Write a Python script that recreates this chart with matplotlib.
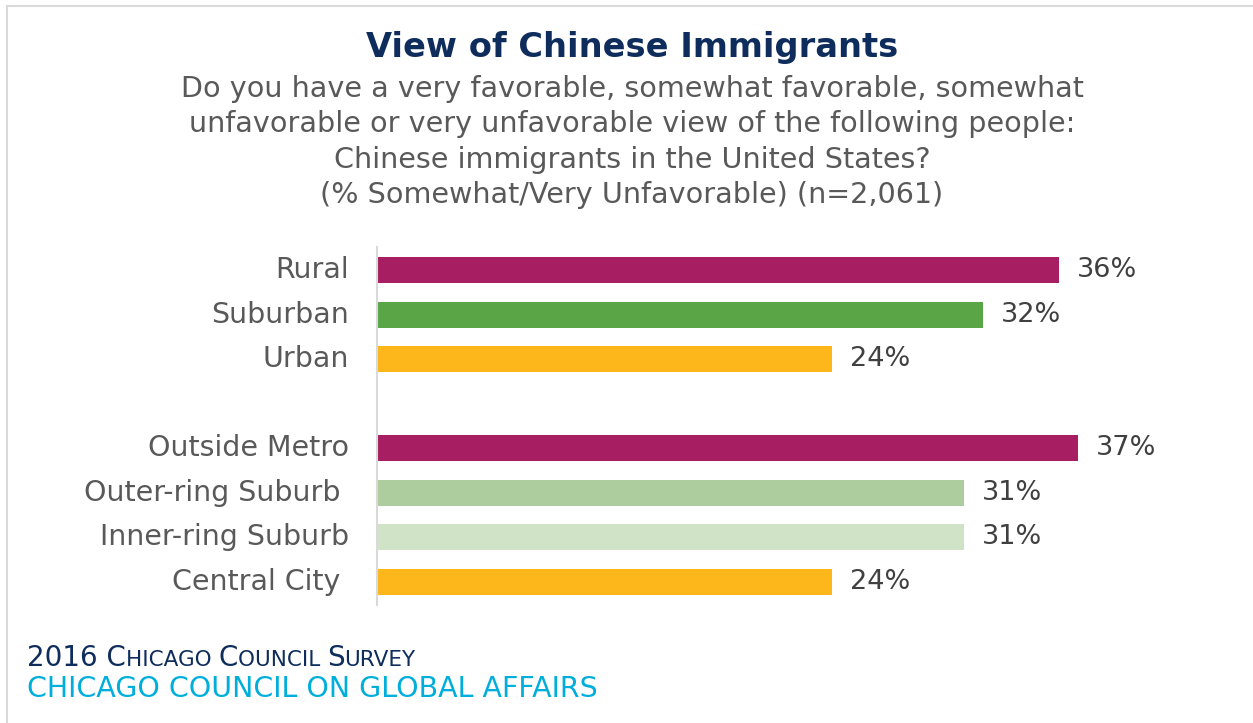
import matplotlib
matplotlib.use("Agg")
import matplotlib.pyplot as plt
from matplotlib.lines import Line2D

plt.rcParams['font.family'] = ['DejaVu Sans']

# survey numbers
categories = ["Rural", "Suburban", "Urban",
              "Outside Metro", "Outer-ring Suburb ", "Inner-ring Suburb", "Central City "]
values = [36, 32, 24, 37, 31, 31, 24]
positions = [0, 1, 2, 4, 5, 6, 7]
colors = ["#A71E63", "#5AA646", "#FDB71A",
          "#A71E63", "#AECD9F", "#D0E3C7", "#FDB71A"]

title = "View of Chinese Immigrants"
subtitle = ["Do you have a very favorable, somewhat favorable, somewhat",
            "unfavorable or very unfavorable view of the following people:",
            "Chinese immigrants in the United States?",
            "(% Somewhat/Very Unfavorable) (n=2,061)"]

W, H = 1253, 723
fig = plt.figure(figsize=(W / 100, H / 100), dpi=100)

def fx(px):
    return px / W

def fy(py):
    return 1 - py / H

# thin frame on the top and left
fig.add_artist(Line2D([fx(7), fx(7)], [fy(6), 0], color="#D9D9D9", lw=1.5))
fig.add_artist(Line2D([fx(7), 1], [fy(6), fy(6)], color="#D9D9D9", lw=1.5))

fig.text(fx(632), fy(48), title, ha="center", va="center",
         fontsize=24.2, fontweight="bold", color="#0E2D5C")
for i, line in enumerate(subtitle):
    fig.text(fx(632), fy(89 + 35.3 * i), line, ha="center", va="center",
             fontsize=20.6, color="#595959")

# bar area
px_per_pct = 18.94
ax_l, ax_r, ax_t, ax_b = 377, 1200, 247, 605
ax = fig.add_axes([fx(ax_l), fy(ax_b), fx(ax_r - ax_l), (ax_b - ax_t) / H])
ax.barh(positions, values, height=0.58, color=colors)
ax.set_xlim(0, (ax_r - ax_l) / px_per_pct)
ax.set_ylim(7.52, -0.52)
ax.set_yticks(positions)
ax.set_yticklabels(categories, fontsize=20.5, color="#595959", va="center")
ax.tick_params(axis="y", length=0, pad=20)
ax.set_xticks([])
for s in ["top", "right", "bottom"]:
    ax.spines[s].set_visible(False)
ax.spines["left"].set_color("#D9D9D9")
ax.spines["left"].set_linewidth(1.5)
for p, v in zip(positions, values):
    ax.annotate(f"{v}%", (v, p), xytext=(13, 0), textcoords="offset points",
                ha="left", va="center", fontsize=19.5, color="#404040")

# footer, first line in small caps
fig.canvas.draw()
renderer = fig.canvas.get_renderer()
pieces = [("2016 C", 20), ("HICAGO ", 15.5), ("C", 20), ("OUNCIL ", 15.5),
          ("S", 20), ("URVEY", 15.5)]
x = 27
for txt, size in pieces:
    t = fig.text(fx(x), fy(666), txt, ha="left", va="baseline",
                 fontsize=size, color="#0E2D5C")
    x = t.get_window_extent(renderer).x1
fig.text(fx(27), fy(697), "CHICAGO COUNCIL ON GLOBAL AFFAIRS", ha="left",
         va="baseline", fontsize=20.5, color="#00AEDB")

fig.savefig("out.png", dpi=100)
